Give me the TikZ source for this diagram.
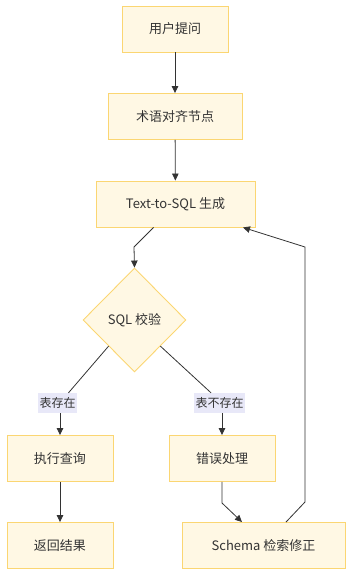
\documentclass[tikz,border=0pt]{standalone}
\usepackage{fontspec}
\setmainfont{Noto Sans CJK SC}
\usetikzlibrary{arrows.meta,shapes.geometric}

\definecolor{boxfill}{HTML}{FFF8E4}
\definecolor{boxline}{HTML}{FBD672}
\definecolor{tagfill}{HTML}{E8E8F8}
\definecolor{wire}{HTML}{333333}

\tikzset{
  stepbox/.style={draw=boxline, fill=boxfill, line width=0.9pt, inner sep=0pt,
    minimum height=46pt, font=\fontsize{13}{15}\selectfont, text=black!80},
  checkbox/.style={diamond, draw=boxline, fill=boxfill, line width=0.9pt, inner sep=0pt,
    minimum width=103pt, minimum height=104pt, font=\fontsize{13}{15}\selectfont, text=black!80},
  tag/.style={fill=tagfill, inner sep=1.5pt, minimum height=20pt, font=\fontsize{12}{14}\selectfont, text=black!80},
  wireline/.style={draw=wire, line width=0.8pt},
  arr/.style={wireline, -{Triangle[length=7pt,width=6.5pt]}}
}

\begin{document}
\begin{tikzpicture}[x=1pt, y=-1pt]
\useasboundingbox (0,0) rectangle (352,576);
% main column
\node[stepbox, minimum width=106pt] (ask) at (175,29) {用户提问};
\node[stepbox, minimum width=134pt] (align) at (175,116.5) {术语对齐节点};
\node[stepbox, minimum width=159pt] (gen) at (175.5,204) {Text-to-SQL 生成};
\node[checkbox] (chk) at (134.5,320) {SQL 校验};
% branch labels
\node[tag] (lok) at (57.5,403) {表存在};
\node[tag] (lno) at (219.5,403) {表不存在};
% lower boxes
\node[stepbox, minimum width=106pt] (exec) at (60,458.5) {执行查询};
\node[stepbox, minimum width=106pt] (err) at (222,458.5) {错误处理};
\node[stepbox, minimum width=106pt] (ret) at (60,545.5) {返回结果};
\node[stepbox, minimum width=163pt] (fix) at (263.5,545.5) {Schema 检索修正};
% bends
\coordinate (k1) at (134,247);
\coordinate (k2) at (222,503);
\coordinate (k3) at (305,502);
\coordinate (k4) at (305,247);
% connectors
\draw[arr] (ask) -- (align);
\draw[arr] (align) -- (gen);
\draw[arr] ([xshift=-22pt]gen.south) -- (k1) -- (chk.north);
\draw[wireline] (chk.south west) -- ([xshift=11pt]lok.north);
\draw[arr] (lok.south -| exec.north) -- (exec.north);
\draw[wireline] (chk.south east) -- ([xshift=-8.5pt]lno.north);
\draw[arr] (lno.south -| err.north) -- (err.north);
\draw[arr] (exec) -- (ret);
\draw[arr] (err.south) -- (k2) -- ([xshift=-21.5pt]fix.north);
\draw[arr] ([xshift=22.5pt]fix.north) -- (k3) -- (k4) -- ([xshift=67.5pt]gen.south);
\end{tikzpicture}
\end{document}
